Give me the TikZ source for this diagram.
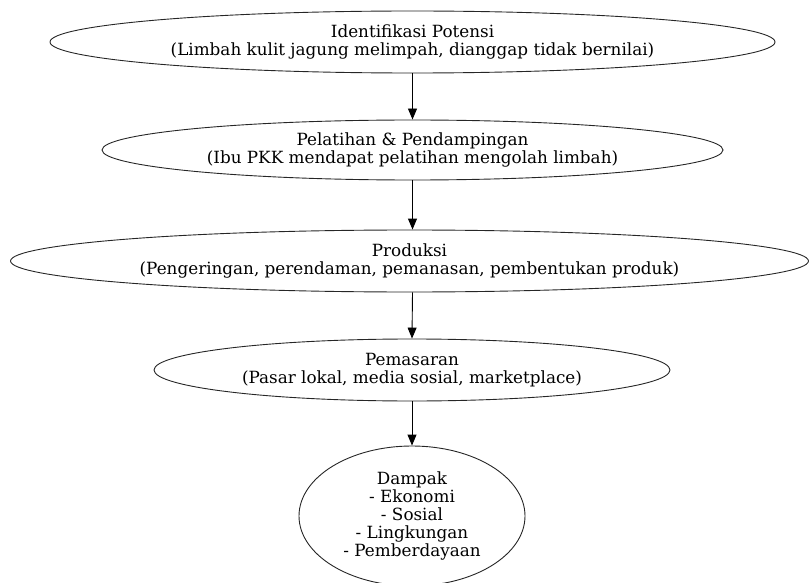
\documentclass[tikz,border=0pt]{standalone}
\usepackage{fontspec}
\setmainfont{DejaVu Serif}
\usetikzlibrary{shapes.geometric,arrows.meta}
\begin{document}
\begin{tikzpicture}[x=1pt,y=-1pt,
  stage/.style={draw=black!85,line width=0.9pt,ellipse,inner sep=0pt,align=center,
    font=\fontsize{16.8}{18}\selectfont},
  flow/.style={draw=black,line width=0.9pt,-{Triangle[length=11pt,width=9pt]}}]
\useasboundingbox (0,0) rectangle (809,583);
\node[stage,minimum width=725pt,minimum height=62pt] (a) at (412.5,42)
  {Identifikasi Potensi\\(Limbah kulit jagung melimpah, dianggap tidak bernilai)};
\node[stage,minimum width=621pt,minimum height=60pt] (b) at (412.5,150)
  {Pelatihan \& Pendampingan\\(Ibu PKK mendapat pelatihan mengolah limbah)};
\node[stage,minimum width=798pt,minimum height=62pt] (c) at (409.5,261)
  {Produksi\\(Pengeringan, perendaman, pemanasan, pembentukan produk)};
\node[stage,minimum width=516pt,minimum height=62pt] (d) at (412,370)
  {Pemasaran\\(Pasar lokal, media sosial, marketplace)};
\node[stage,minimum width=226pt,minimum height=140pt] (e) at (412,516)
  {Dampak\\- Ekonomi\\- Sosial\\- Lingkungan\\- Pemberdayaan};
\draw[flow] (a.south) -- (b.north);
\draw[flow] (b.south) -- (b.south |- c.north);
\draw[flow] (b.south |- c.south) -- (d.north);
\draw[flow] (d.south) -- (e.north);
\end{tikzpicture}
\end{document}
